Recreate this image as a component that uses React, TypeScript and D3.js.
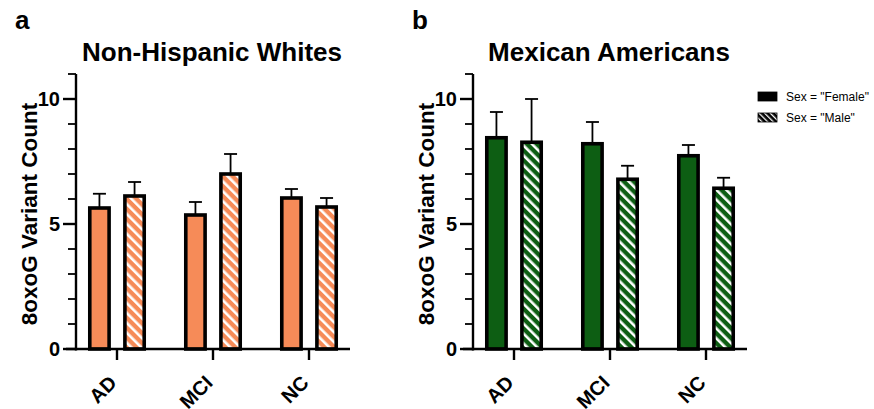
import React from "react";
import * as d3 from "d3";

const categories = ["AD", "MCI", "NC"];
const series = ["Female", "Male"];
const nhwMean = [[5.64, 6.12], [5.36, 7.0], [6.04, 5.68]];
const nhwErr = [[6.21, 6.68], [5.88, 7.8], [6.4, 6.04]];
const maMean = [[8.45, 8.27], [8.21, 6.79], [7.73, 6.43]];
const maErr = [[9.48, 10.0], [9.08, 7.33], [8.16, 6.85]];
const yMajorTicks = [0, 5, 10];
const yMinorTicks = [1, 2, 3, 4, 6, 7, 8, 9, 11];
const legendLabels = ['Sex = "Female"', 'Sex = "Male"'];

const FONT = "Liberation Sans, Arial, Helvetica, sans-serif";

type PanelProps = {
  x0: number;
  title: string;
  letter: string;
  letterX: number;
  mean: number[][];
  err: number[][];
  color: string;
  patId: string;
};

function Panel({ x0, title, letter, letterX, mean, err, color, patId }: PanelProps) {
  const y = d3.scaleLinear().domain([0, 11]).range([349, 74]);
  const x = d3.scaleBand().domain(categories).range([x0 - 7, x0 + 281]).paddingInner(0).paddingOuter(0);
  const sub = d3.scaleBand().domain(series).range([-36, 36]).paddingInner(0.45).paddingOuter(0.25);
  const bw = sub.bandwidth();
  const axisLeft = x0;
  const axisRight = x0 + 274;
  return (
    <g>
      <text x={letterX} y={29} fontFamily={FONT} fontWeight="bold" fontSize={26}>{letter}</text>
      <text x={(axisLeft + axisRight) / 2 - 1} y={61} textAnchor="middle" fontFamily={FONT} fontWeight="bold" fontSize={26}>{title}</text>
      {/* bars */}
      {categories.map((c, i) => {
        const cx = (x(c) as number) + x.bandwidth() / 2;
        return series.map((s, j) => {
          const bx = cx + (sub(s) as number);
          const v = mean[i][j];
          const e = err[i][j];
          return (
            <g key={c + s}>
              <line x1={bx + bw / 2} x2={bx + bw / 2} y1={y(v)} y2={y(e)} stroke="#000" strokeWidth={1.8} />
              <line x1={bx + bw / 2 - 6.5} x2={bx + bw / 2 + 6.5} y1={y(e)} y2={y(e)} stroke="#000" strokeWidth={1.8} />
              <rect x={bx} y={y(v)} width={bw} height={y(0) - y(v)} fill={j === 0 ? color : `url(#${patId})`} stroke="#000" strokeWidth={3.6} />
            </g>
          );
        });
      })}
      {/* y axis */}
      <line x1={axisLeft} x2={axisLeft} y1={y(11)} y2={y(0) + 1.5} stroke="#000" strokeWidth={2.4} />
      {yMinorTicks.map((t) => (
        <line key={"mn" + t} x1={axisLeft - 8} x2={axisLeft} y1={y(t)} y2={y(t)} stroke="#000" strokeWidth={1.8} />
      ))}
      {yMajorTicks.map((t) => (
        <g key={"mj" + t}>
          <line x1={axisLeft - 13} x2={axisLeft} y1={y(t)} y2={y(t)} stroke="#000" strokeWidth={2.4} />
          <text x={axisLeft - 16} y={y(t)} dy="0.36em" textAnchor="end" fontFamily={FONT} fontWeight="bold" fontSize={20}>{t}</text>
        </g>
      ))}
      {/* x axis */}
      <line x1={axisLeft - 10} x2={axisRight} y1={y(0)} y2={y(0)} stroke="#000" strokeWidth={2.4} />
      {categories.map((c) => {
        const cx = (x(c) as number) + x.bandwidth() / 2;
        return (
          <g key={"xt" + c}>
            <line x1={cx} x2={cx} y1={y(0)} y2={y(0) + 11} stroke="#000" strokeWidth={2.4} />
            <text transform={`translate(${cx + 1},${384}) rotate(-45)`} textAnchor="end" fontFamily={FONT} fontWeight="bold" fontSize={20}>{c}</text>
          </g>
        );
      })}
      <text transform={`translate(${x0 - 39},${214}) rotate(-90)`} textAnchor="middle" fontFamily={FONT} fontWeight="bold" fontSize={22.5}>8oxoG Variant Count</text>
    </g>
  );
}

export default function App() {
  return (
    <svg width={874} height={409} style={{ position: "absolute", left: 0, top: 0, background: "#fff" }}>
      <defs>
        <pattern id="hatchOrange" width={7} height={7} patternUnits="userSpaceOnUse" patternTransform="rotate(-45)">
          <rect width={7} height={7} fill="#F68B58" />
          <rect x={0} width={2.6} height={7} fill="#fff" />
        </pattern>
        <pattern id="hatchGreen" width={7} height={7} patternUnits="userSpaceOnUse" patternTransform="rotate(-45)">
          <rect width={7} height={7} fill="#0D5E13" />
          <rect x={0} width={2.6} height={7} fill="#fff" />
        </pattern>
        <pattern id="hatchBlack" width={4} height={4} patternUnits="userSpaceOnUse" patternTransform="rotate(-45)">
          <rect width={4} height={4} fill="#000" />
          <rect x={0} width={1.3} height={4} fill="#fff" />
        </pattern>
      </defs>
      <rect width={874} height={409} fill="#fff" />
      <Panel x0={76} title="Non-Hispanic Whites" letter="a" letterX={15} mean={nhwMean} err={nhwErr} color="#F68B58" patId="hatchOrange" />
      <Panel x0={473} title="Mexican Americans" letter="b" letterX={412} mean={maMean} err={maErr} color="#0D5E13" patId="hatchGreen" />
      {legendLabels.map((l, i) => (
        <g key={l}>
          <rect x={758} y={92 + i * 21} width={19} height={9} fill={i === 0 ? "#000" : "url(#hatchBlack)"} stroke="#000" strokeWidth={0.8} />
          <text x={786} y={97 + i * 21} dy="0.35em" fontFamily={FONT} fontSize={12}>{l}</text>
        </g>
      ))}
    </svg>
  );
}
